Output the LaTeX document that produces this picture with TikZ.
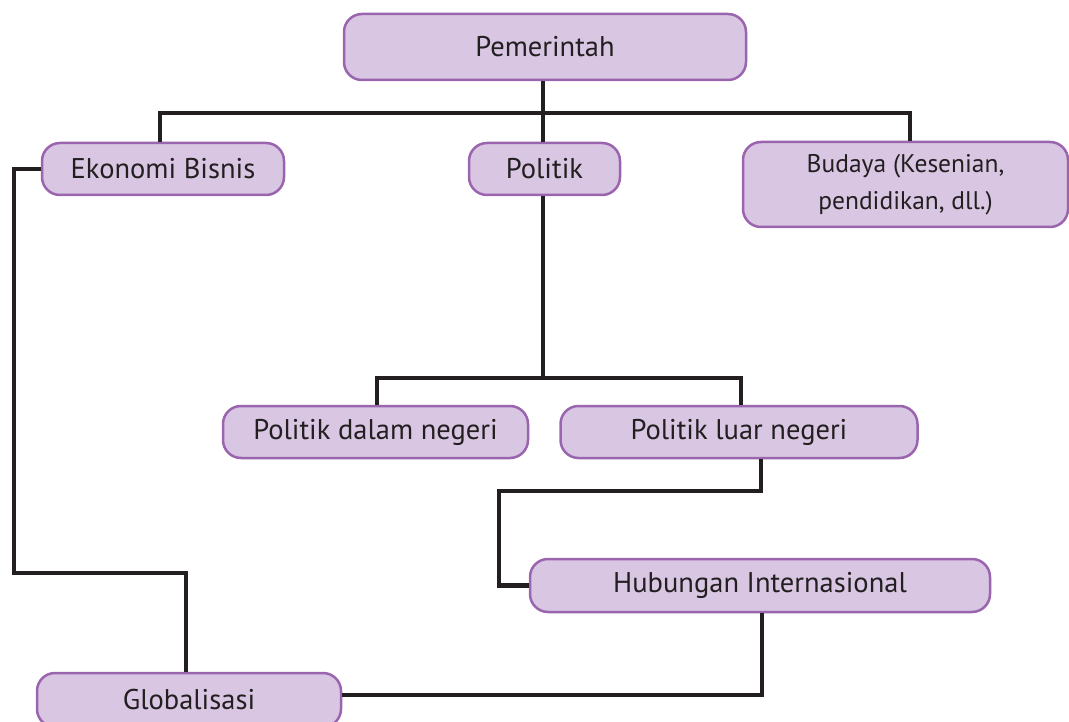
\documentclass[tikz,border=0pt]{standalone}
\usepackage{fontspec}
\setmainfont{PT Sans}
\begin{document}
\begin{tikzpicture}[x=1pt,y=-1pt,
  box/.style={draw=boxborder,fill=boxfill,line width=2.5pt,rounded corners=18pt,
    anchor=center,inner sep=0pt,align=center,text=textcol,
    font=\fontsize{28.5}{34}\selectfont},
  conn/.style={draw=linecol,line width=4.2pt}]
\definecolor{boxfill}{HTML}{D8C6E2}
\definecolor{boxborder}{HTML}{9A65AE}
\definecolor{linecol}{HTML}{231F20}
\definecolor{textcol}{HTML}{231F20}
\useasboundingbox (0,0) rectangle (1069,722);
\coordinate (j1) at (543,113);
\coordinate (j2) at (543,378);
\coordinate (c1) at (761,491);
\coordinate (c2) at (499,491);
\coordinate (c3) at (762,695);
\coordinate (c4) at (14,573);
\coordinate (c5) at (186,573);
\coordinate (e1) at (160,143);
\coordinate (b1) at (910,143);
\coordinate (d1) at (377,406);
\coordinate (l1) at (741,406);

\node[box,minimum width=402pt,minimum height=66pt] (pem) at (545,47) {Pemerintah};
\node[box,minimum width=242pt,minimum height=52pt] (eko) at (163,169) {Ekonomi Bisnis};
\node[box,minimum width=151pt,minimum height=52pt] (pol) at (544.5,169) {Politik};
\node[box,minimum width=325pt,minimum height=85pt,font=\fontsize{25.5}{37}\selectfont] (bud) at (905.5,184.5) {Budaya (Kesenian,\\pendidikan, dll.)};
\node[box,minimum width=305pt,minimum height=52pt] (pdn) at (375.5,432) {Politik dalam negeri};
\node[box,minimum width=357pt,minimum height=52pt] (pln) at (739,432) {Politik luar negeri};
\node[box,minimum width=460pt,minimum height=53pt] (hub) at (760,585.5) {Hubungan Internasional};
\node[box,minimum width=304pt,minimum height=54pt] (glob) at (189,700) {Globalisasi};

\draw[conn] (pem.south -| j1) -- (pol.north -| j1);
\draw[conn] (eko.north -| e1) |- (j1) -| (bud.north -| b1);
\draw[conn] (pol.south -| j2) -- (j2);
\draw[conn] (pdn.north -| d1) |- (j2) -| (pln.north -| l1);
\draw[conn] (pln.south -| c1) -- (c1) -- (c2) |- (hub.west);
\draw[conn] (hub.south -| c3) -- (c3) -- (c3 -| glob.east);
\draw[conn] (eko.west) -| (c4) -- (c5) -- (c5 |- glob.north);
\end{tikzpicture}
\end{document}
